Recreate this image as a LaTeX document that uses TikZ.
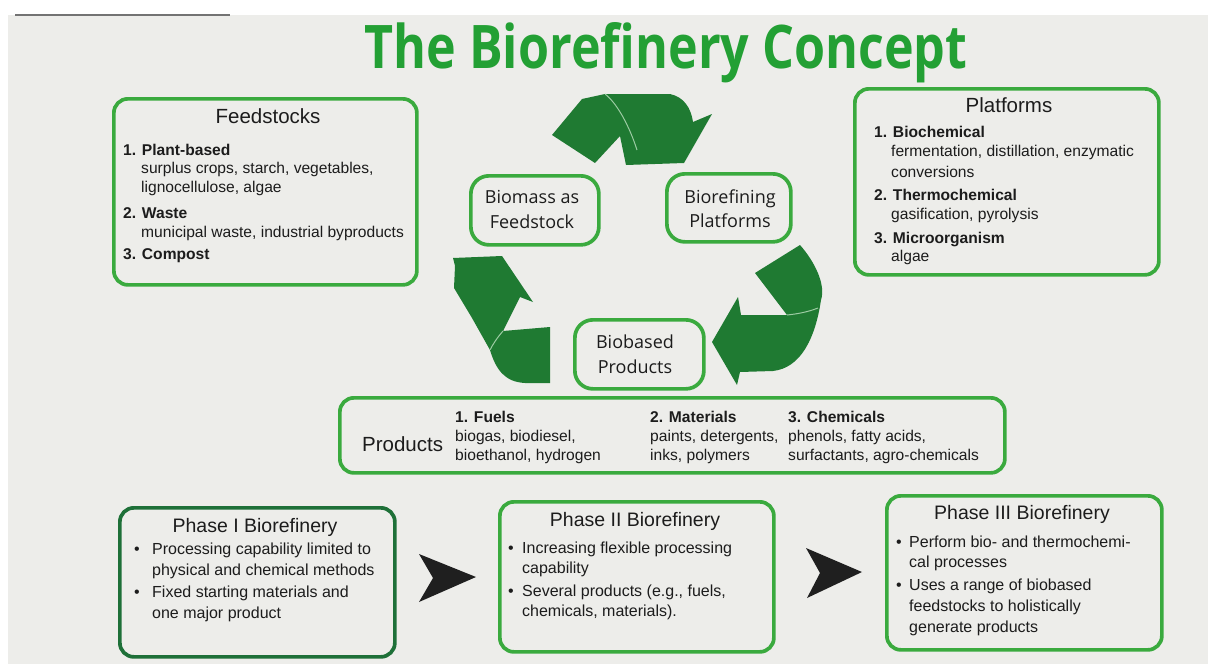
\documentclass[tikz,border=0pt]{standalone}
\usepackage{fontspec}
\setmainfont{Liberation Sans}
\newfontfamily\myriad{Open Sans}
\usepackage{graphicx}
\definecolor{bg}{HTML}{EDEDEA}
\definecolor{titlegreen}{HTML}{23A034}
\definecolor{boxgreen}{HTML}{3AAA3E}
\definecolor{darkboxgreen}{HTML}{1E7038}
\definecolor{arrowgreen}{HTML}{1F7A32}
\definecolor{seam}{HTML}{9CCBA3}
\definecolor{txt}{HTML}{1C1C1C}
\begin{document}
\begin{tikzpicture}[x=1pt,y=-1pt,
  box/.style={draw=boxgreen,line width=3.7pt,rounded corners=14pt,anchor=north west,inner sep=0pt},
  darkbox/.style={box,draw=darkboxgreen},
  cycbox/.style={box,rounded corners=18pt},
  item/.style={anchor=base west,inner sep=0pt,font=\fontsize{15.6}{18}\selectfont,text=txt},
  itemb/.style={item,font=\fontsize{15.6}{18}\selectfont\bfseries},
  pitem/.style={item,font=\fontsize{16}{19}\selectfont},
  head/.style={anchor=base,inner sep=0pt,font=\fontsize{20.5}{24}\selectfont,text=txt},
  cyc/.style={anchor=base,inner sep=0pt,font=\myriad\fontsize{18}{22}\selectfont,text=txt},
  blackarrow/.style={fill=black!88},
  recycle/.style={fill=arrowgreen},
  seamline/.style={draw=seam,line width=1pt}
]
\useasboundingbox (0,0) rectangle (1208,664);
\fill[white] (0,0) rectangle (1208,664);
\fill[bg] (8,15) rectangle (1208,664);
\draw[black!55,line width=1.5pt] (15,15) -- (230,15);

% title
\node[anchor=base,inner sep=0pt,text=titlegreen] (title) at (666,68)
  {\resizebox{603pt}{46pt}{\myriad\bfseries The Biorefinery Concept}};

% Feedstocks
\node[box,minimum width=303pt,minimum height=186pt] (feedbox) at (112,97) {};
\node[head] (fhead) at (268,123) {Feedstocks};
\node[itemb] (f1) at (123,155) {1. Plant-based};
\node[item] (f1a) at (141,173) {surplus crops, starch, vegetables,};
\node[item] (f1b) at (141,192) {lignocellulose, algae};
\node[itemb] (f2) at (123,218) {2. Waste};
\node[item] (f2a) at (141,237) {municipal waste, industrial byproducts};
\node[itemb] (f3) at (123,259) {3. Compost};

% Platforms
\node[box,minimum width=304pt,minimum height=186pt] (platbox) at (853,87) {};
\node[head] (phead) at (1009,112) {Platforms};
\node[itemb] (p1) at (874,137) {1. Biochemical};
\node[item] (p1a) at (891,156) {fermentation, distillation, enzymatic};
\node[item] (p1b) at (891,177) {conversions};
\node[itemb] (p2) at (874,200) {2. Thermochemical};
\node[item] (p2a) at (891,219) {gasification, pyrolysis};
\node[itemb] (p3) at (874,243) {3. Microorganism};
\node[item] (p3a) at (891,261) {algae};

% cycle boxes
\node[cycbox,minimum width=128pt,minimum height=69pt] (biomass) at (469,174) {};
\node[cyc] (biomassA) at (532,203) {Biomass as};
\node[cyc] (biomassB) at (532,228) {Feedstock};
\node[cycbox,minimum width=124pt,minimum height=68pt] (biorefining) at (665,172) {};
\node[cyc] (biorefA) at (730,203) {Biorefining};
\node[cyc] (biorefB) at (730,227) {Platforms};
\node[cycbox,minimum width=129pt,minimum height=69pt] (biobased) at (573,318) {};
\node[cyc] (biobasedA) at (635,348) {Biobased};
\node[cyc] (biobasedB) at (635,373) {Products};

% recycle arrows
% top
\fill[recycle] (552,135) -- (582,99) -- (605,94) -- (670,94)
  .. controls (684,97) and (691,108) .. (693,122) -- (712,114) -- (684,163)
  -- (626,165) -- (620,136) -- (595,163) -- cycle;
\draw[seamline] (605,94) .. controls (618,104) and (630,128) .. (637,150);
% right
\fill[recycle] (755,273) -- (800,245) .. controls (815,262) and (826,285) .. (821,300)
  .. controls (815,340) and (800,368) .. (773,371) -- (740,372) -- (737,385)
  -- (712,342) -- (738,297) -- (741,315) -- (787,315) -- cycle;
\draw[seamline] (787,315) .. controls (797,314) and (808,312) .. (818,308);
% left
\fill[recycle] (502,256) -- (533,302) -- (520,297) -- (503,331) -- (550,327)
  -- (550,383) -- (525,383) .. controls (505,382) and (496,370) .. (490,350)
  -- (472,318) -- (454,288) -- (455,266) -- (453,258) -- cycle;
\draw[seamline] (503,331) .. controls (497,338) and (493,344) .. (490,350);

% Products
\node[box,minimum width=665pt,minimum height=75pt] (prodbox) at (338,396) {};
\node[head,anchor=base west] (prodlabel) at (362,451) {Products};
\node[itemb] (pr1) at (455,422) {1. Fuels};
\node[item] (pr1a) at (455,441) {biogas, biodiesel,};
\node[item] (pr1b) at (455,460) {bioethanol, hydrogen};
\node[itemb] (pr2) at (650,422) {2. Materials};
\node[item] (pr2a) at (650,441) {paints, detergents,};
\node[item] (pr2b) at (650,460) {inks, polymers};
\node[itemb] (pr3) at (788,422) {3. Chemicals};
\node[item] (pr3a) at (788,441) {phenols, fatty acids,};
\node[item] (pr3b) at (788,460) {surfactants, agro-chemicals};

% Phase I
\node[darkbox,minimum width=275pt,minimum height=149pt] (ph1) at (118,506) {};
\node[head,font=\fontsize{19.5}{23}\selectfont] (ph1h) at (255,532) {Phase I Biorefinery};
\node[pitem] (ph1b1) at (134,554) {•};
\node[pitem] (ph1t1) at (152,554) {Processing capability limited to};
\node[pitem] (ph1t2) at (152,575) {physical and chemical methods};
\node[pitem] (ph1b2) at (134,597) {•};
\node[pitem] (ph1t3) at (152,597) {Fixed starting materials and};
\node[pitem] (ph1t4) at (152,618) {one major product};

% Phase II
\node[box,minimum width=274pt,minimum height=150pt] (ph2) at (498,500) {};
\node[head,font=\fontsize{19.5}{23}\selectfont] (ph2h) at (635,526) {Phase II Biorefinery};
\node[pitem] (ph2b1) at (508,553) {•};
\node[pitem] (ph2t1) at (522,553) {Increasing flexible processing};
\node[pitem] (ph2t2) at (522,573) {capability};
\node[pitem] (ph2b2) at (508,596) {•};
\node[pitem] (ph2t3) at (522,596) {Several products (e.g., fuels,};
\node[pitem] (ph2t4) at (522,616) {chemicals, materials).};

% Phase III
\node[box,minimum width=275pt,minimum height=154pt] (ph3) at (885,494) {};
\node[head,font=\fontsize{19.5}{23}\selectfont] (ph3h) at (1022,519) {Phase III Biorefinery};
\node[pitem] (ph3b1) at (896,547) {•};
\node[pitem] (ph3t1) at (909,547) {Perform bio- and thermochemi-};
\node[pitem] (ph3t2) at (909,567) {cal processes};
\node[pitem] (ph3b2) at (896,590) {•};
\node[pitem] (ph3t3) at (909,590) {Uses a range of biobased};
\node[pitem] (ph3t4) at (909,611) {feedstocks to holistically};
\node[pitem] (ph3t5) at (909,632) {generate products};

% black arrows
\fill[blackarrow] (419,554) -- (476,577) -- (419,602) -- (433,578) -- cycle;
\fill[blackarrow] (806,548) -- (862,572) -- (807,598) -- (820,573) -- cycle;
\end{tikzpicture}
\end{document}
